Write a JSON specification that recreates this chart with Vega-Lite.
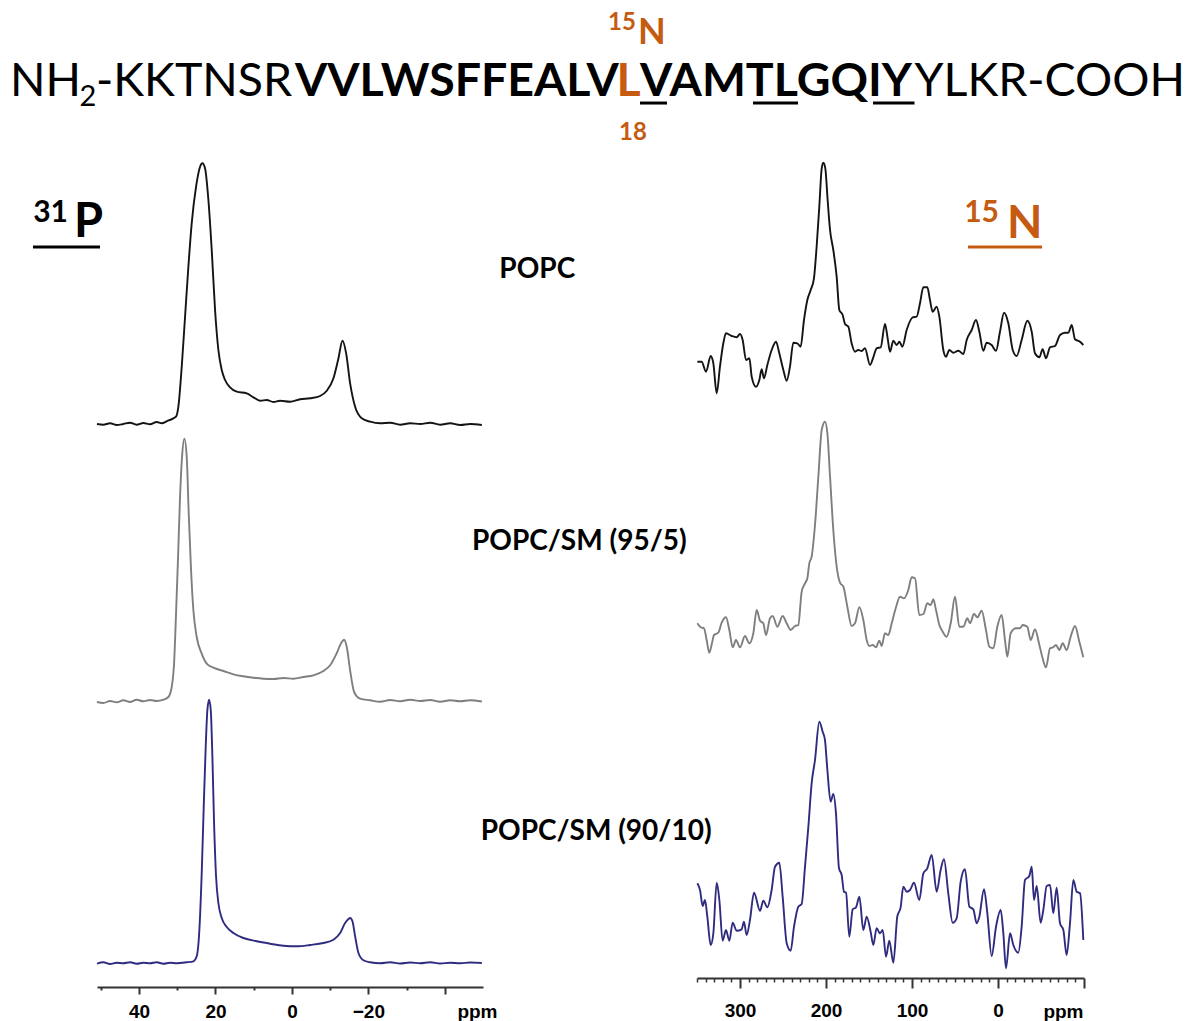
{
"$schema": "https://vega.github.io/schema/vega-lite/v6.json",
"width": 1192, "height": 978,
"autosize": "none",
"padding": {"left": 0, "top": 0, "right": 0, "bottom": 43},
"background": "white",
"config": {"view": {"stroke": null}, "axis": {"grid": false}},
"datasets": {
"p_popc": [{"ppm":51.0,"i":1.0},{"ppm":49.34,"i":0.3},{"ppm":47.59,"i":1.7},{"ppm":45.85,"i":0},{"ppm":44.10,"i":1.0},{"ppm":42.36,"i":2.3},{"ppm":40.61,"i":0.3},{"ppm":38.87,"i":2.0},{"ppm":37.12,"i":0.7},{"ppm":35.38,"i":3.0},{"ppm":34.07,"i":1.7},{"ppm":32.76,"i":3.7},{"ppm":31.02,"i":6.7},{"ppm":30.32,"i":8.3},{"ppm":29.71,"i":18.3},{"ppm":28.83,"i":58.3},{"ppm":27.96,"i":108.3},{"ppm":27.09,"i":158.3},{"ppm":26.22,"i":201.7},{"ppm":25.08,"i":238.3},{"ppm":24.03,"i":258.3},{"ppm":23.42,"i":261.7},{"ppm":22.73,"i":256.7},{"ppm":21.85,"i":225},{"ppm":20.98,"i":175},{"ppm":20.11,"i":115},{"ppm":19.24,"i":75},{"ppm":18.36,"i":55},{"ppm":17.49,"i":45},{"ppm":16.18,"i":37.7},{"ppm":14.44,"i":33.3},{"ppm":11.82,"i":31.7},{"ppm":10.07,"i":27.7},{"ppm":8.33,"i":24.3},{"ppm":6.58,"i":25},{"ppm":4.84,"i":23},{"ppm":3.09,"i":24.3},{"ppm":0.47,"i":23.3},{"ppm":-2.14,"i":25.7},{"ppm":-4.76,"i":26.7},{"ppm":-7.38,"i":29},{"ppm":-9.12,"i":34.3},{"ppm":-10.87,"i":46.7},{"ppm":-12.18,"i":66.7},{"ppm":-13.23,"i":84.3},{"ppm":-14.19,"i":71.7},{"ppm":-15.23,"i":41.7},{"ppm":-16.54,"i":18.3},{"ppm":-18.29,"i":6.7},{"ppm":-20.47,"i":3.3},{"ppm":-23.09,"i":1.7},{"ppm":-25.70,"i":2.3},{"ppm":-28.32,"i":0.3},{"ppm":-30.94,"i":1.7},{"ppm":-33.56,"i":1.0},{"ppm":-36.18,"i":2.3},{"ppm":-38.79,"i":0.3},{"ppm":-41.41,"i":1.7},{"ppm":-44.03,"i":0},{"ppm":-46.65,"i":1.0},{"ppm":-49.70,"i":0}],
"p_sm5": [{"ppm":51.0,"i":-1.0},{"ppm":49.34,"i":-2},{"ppm":47.59,"i":0},{"ppm":45.85,"i":-1.3},{"ppm":44.10,"i":0.7},{"ppm":42.36,"i":-1},{"ppm":40.61,"i":1.3},{"ppm":38.87,"i":-0.3},{"ppm":37.12,"i":1},{"ppm":35.38,"i":0},{"ppm":33.63,"i":1.3},{"ppm":32.32,"i":4},{"ppm":31.45,"i":14},{"ppm":30.84,"i":37.3},{"ppm":30.32,"i":87.3},{"ppm":29.79,"i":144},{"ppm":29.27,"i":204},{"ppm":28.75,"i":244},{"ppm":28.14,"i":262.3},{"ppm":27.52,"i":244},{"ppm":27.00,"i":187.3},{"ppm":26.39,"i":130.7},{"ppm":25.78,"i":90.7},{"ppm":24.91,"i":64},{"ppm":23.60,"i":47.3},{"ppm":22.29,"i":37.3},{"ppm":20.54,"i":33.3},{"ppm":17.93,"i":30},{"ppm":15.31,"i":26.7},{"ppm":12.69,"i":24.7},{"ppm":10.07,"i":23.3},{"ppm":7.46,"i":22.3},{"ppm":4.84,"i":22},{"ppm":2.22,"i":23},{"ppm":-0.40,"i":22.3},{"ppm":-3.02,"i":24},{"ppm":-5.63,"i":25.7},{"ppm":-8.25,"i":30},{"ppm":-10.00,"i":35.7},{"ppm":-11.74,"i":48},{"ppm":-13.05,"i":59},{"ppm":-13.66,"i":61.3},{"ppm":-14.36,"i":54},{"ppm":-15.23,"i":30.7},{"ppm":-16.28,"i":9},{"ppm":-17.85,"i":2.3},{"ppm":-20.47,"i":0.7},{"ppm":-23.09,"i":-0.7},{"ppm":-25.70,"i":1},{"ppm":-28.32,"i":-0.3},{"ppm":-30.94,"i":1.3},{"ppm":-33.56,"i":0},{"ppm":-36.18,"i":1},{"ppm":-38.79,"i":-0.7},{"ppm":-41.41,"i":0.7},{"ppm":-44.03,"i":-0.3},{"ppm":-46.65,"i":0.7},{"ppm":-49.70,"i":-0.5}],
"p_sm10": [{"ppm":51.0,"i":-0.7},{"ppm":49.34,"i":0.7},{"ppm":47.59,"i":-1},{"ppm":45.85,"i":0.3},{"ppm":44.10,"i":-0.3},{"ppm":42.36,"i":0.7},{"ppm":40.61,"i":-0.7},{"ppm":38.87,"i":0.3},{"ppm":37.12,"i":-0.3},{"ppm":35.38,"i":0.7},{"ppm":33.63,"i":-0.7},{"ppm":31.89,"i":0.3},{"ppm":30.14,"i":-0.3},{"ppm":27.52,"i":0.7},{"ppm":25.78,"i":1.7},{"ppm":24.91,"i":6.7},{"ppm":24.21,"i":33.3},{"ppm":23.60,"i":90},{"ppm":23.07,"i":156.7},{"ppm":22.55,"i":216.7},{"ppm":22.11,"i":253.3},{"ppm":21.68,"i":263.3},{"ppm":21.24,"i":253.3},{"ppm":20.81,"i":206.7},{"ppm":20.37,"i":140},{"ppm":19.85,"i":86.7},{"ppm":19.24,"i":60},{"ppm":18.36,"i":45},{"ppm":17.05,"i":36},{"ppm":15.31,"i":30},{"ppm":12.69,"i":25},{"ppm":9.20,"i":21.7},{"ppm":5.71,"i":19.3},{"ppm":2.22,"i":17.3},{"ppm":-1.27,"i":16.7},{"ppm":-4.76,"i":18},{"ppm":-8.25,"i":20},{"ppm":-10.87,"i":23.3},{"ppm":-12.62,"i":30},{"ppm":-13.92,"i":40},{"ppm":-14.80,"i":44},{"ppm":-15.23,"i":45},{"ppm":-15.84,"i":41.7},{"ppm":-16.54,"i":26.7},{"ppm":-17.41,"i":10},{"ppm":-18.72,"i":2.7},{"ppm":-20.47,"i":0.7},{"ppm":-23.09,"i":-0.3},{"ppm":-25.70,"i":0.7},{"ppm":-28.32,"i":-0.5},{"ppm":-30.94,"i":0.5},{"ppm":-33.56,"i":-0.3},{"ppm":-36.18,"i":0.7},{"ppm":-38.79,"i":-0.5},{"ppm":-41.41,"i":0.3},{"ppm":-44.03,"i":-0.3},{"ppm":-46.65,"i":0.5},{"ppm":-49.70,"i":0}],
"n_popc": [{"ppm":349.6,"i":33.3},{"ppm":344.6,"i":33.3},{"ppm":339.5,"i":23.3},{"ppm":334.1,"i":39},{"ppm":331.0,"i":31.7},{"ppm":327.1,"i":1.7},{"ppm":323.3,"i":28.3},{"ppm":319.4,"i":51.7},{"ppm":316.3,"i":61.7},{"ppm":309.7,"i":59},{"ppm":303.9,"i":57.7},{"ppm":300.0,"i":61},{"ppm":296.9,"i":55},{"ppm":293.0,"i":35},{"ppm":289.1,"i":36.7},{"ppm":286.4,"i":18.3},{"ppm":281.4,"i":8.3},{"ppm":277.5,"i":15},{"ppm":274.8,"i":25.7},{"ppm":272.1,"i":16.7},{"ppm":268.2,"i":30},{"ppm":263.2,"i":45},{"ppm":258.1,"i":53.3},{"ppm":254.3,"i":41.7},{"ppm":249.6,"i":25},{"ppm":245.7,"i":14.3},{"ppm":241.9,"i":28.3},{"ppm":238.0,"i":52.3},{"ppm":233.3,"i":51.7},{"ppm":229.5,"i":48.3},{"ppm":225.6,"i":75},{"ppm":221.7,"i":95},{"ppm":217.8,"i":105},{"ppm":214.0,"i":116.7},{"ppm":210.9,"i":148.3},{"ppm":207.8,"i":188.3},{"ppm":205.0,"i":226.7},{"ppm":203.1,"i":232.3},{"ppm":200.8,"i":226.7},{"ppm":198.1,"i":195},{"ppm":195.3,"i":165},{"ppm":191.5,"i":145},{"ppm":187.6,"i":118.3},{"ppm":184.5,"i":85},{"ppm":180.6,"i":80},{"ppm":177.9,"i":71},{"ppm":174.0,"i":68.3},{"ppm":170.2,"i":51.7},{"ppm":166.3,"i":43.3},{"ppm":162.4,"i":45},{"ppm":158.5,"i":44},{"ppm":154.7,"i":46.7},{"ppm":148.8,"i":30},{"ppm":145.0,"i":37.7},{"ppm":141.1,"i":46.7},{"ppm":136.4,"i":47.7},{"ppm":131.4,"i":71},{"ppm":128.3,"i":56.7},{"ppm":125.6,"i":43.3},{"ppm":121.7,"i":54.3},{"ppm":117.8,"i":50},{"ppm":114.7,"i":53.3},{"ppm":111.2,"i":48.3},{"ppm":106.2,"i":65},{"ppm":99.2,"i":77.7},{"ppm":94.6,"i":78.3},{"ppm":90.7,"i":91.7},{"ppm":86.8,"i":107.7},{"ppm":82.2,"i":107.7},{"ppm":79.1,"i":95},{"ppm":76.0,"i":83.3},{"ppm":71.3,"i":88.3},{"ppm":68.2,"i":78.3},{"ppm":63.6,"i":45},{"ppm":60.5,"i":38.3},{"ppm":56.6,"i":45},{"ppm":51.9,"i":42.3},{"ppm":46.1,"i":44.3},{"ppm":40.3,"i":41},{"ppm":36.4,"i":55},{"ppm":30.6,"i":65},{"ppm":25.6,"i":75},{"ppm":21.7,"i":63.3},{"ppm":17.1,"i":44.3},{"ppm":13.2,"i":52.3},{"ppm":7.4,"i":50},{"ppm":2.3,"i":44.3},{"ppm":-2.3,"i":63.3},{"ppm":-7.0,"i":82.3},{"ppm":-12.0,"i":71.7},{"ppm":-17.1,"i":45},{"ppm":-21.7,"i":39},{"ppm":-27.5,"i":55},{"ppm":-34.1,"i":74.3},{"ppm":-39.2,"i":63.3},{"ppm":-43.0,"i":41.7},{"ppm":-48.1,"i":37.7},{"ppm":-51.9,"i":45.7},{"ppm":-55.8,"i":36.7},{"ppm":-60.5,"i":47.7},{"ppm":-66.3,"i":49},{"ppm":-72.1,"i":60},{"ppm":-77.9,"i":62.3},{"ppm":-81.8,"i":62.3},{"ppm":-85.7,"i":70},{"ppm":-89.5,"i":55.7},{"ppm":-95.4,"i":53.3},{"ppm":-99.2,"i":50}],
"n_sm5": [{"ppm":349.6,"i":46.7},{"ppm":345.7,"i":42.7},{"ppm":341.9,"i":41.7},{"ppm":338.8,"i":30},{"ppm":335.7,"i":17.3},{"ppm":332.6,"i":26.7},{"ppm":330.2,"i":35},{"ppm":325.2,"i":37.3},{"ppm":321.3,"i":47.3},{"ppm":316.3,"i":52.7},{"ppm":312.4,"i":40},{"ppm":308.5,"i":22.7},{"ppm":304.7,"i":30},{"ppm":300.0,"i":22.7},{"ppm":294.2,"i":34},{"ppm":289.1,"i":26.7},{"ppm":284.5,"i":36.7},{"ppm":280.6,"i":60},{"ppm":276.7,"i":49.3},{"ppm":272.9,"i":46.7},{"ppm":269.8,"i":35},{"ppm":265.1,"i":51.7},{"ppm":262.0,"i":54},{"ppm":256.6,"i":43.3},{"ppm":250.4,"i":54},{"ppm":245.7,"i":46.7},{"ppm":241.1,"i":40},{"ppm":236.0,"i":44},{"ppm":232.2,"i":45},{"ppm":228.3,"i":78.3},{"ppm":224.4,"i":86.7},{"ppm":221.7,"i":91.7},{"ppm":219.4,"i":106.7},{"ppm":216.7,"i":113.3},{"ppm":212.8,"i":145},{"ppm":208.9,"i":193.3},{"ppm":205.0,"i":240},{"ppm":201.2,"i":248.3},{"ppm":198.4,"i":236.7},{"ppm":195.3,"i":193.3},{"ppm":191.5,"i":140},{"ppm":187.6,"i":103.3},{"ppm":183.7,"i":87.3},{"ppm":179.8,"i":83.3},{"ppm":175.2,"i":63.3},{"ppm":170.2,"i":44},{"ppm":166.3,"i":46.7},{"ppm":161.2,"i":62.7},{"ppm":156.6,"i":50},{"ppm":152.7,"i":30},{"ppm":149.6,"i":24},{"ppm":145.7,"i":25},{"ppm":141.9,"i":22.7},{"ppm":138.0,"i":29.3},{"ppm":135.3,"i":24},{"ppm":131.4,"i":36.7},{"ppm":127.5,"i":35},{"ppm":123.6,"i":46.7},{"ppm":118.6,"i":62.7},{"ppm":114.0,"i":73.3},{"ppm":109.3,"i":71.7},{"ppm":104.3,"i":80},{"ppm":100.4,"i":92.7},{"ppm":96.5,"i":91.7},{"ppm":91.5,"i":55},{"ppm":86.8,"i":56},{"ppm":82.2,"i":66.7},{"ppm":78.3,"i":65},{"ppm":75.2,"i":70.7},{"ppm":72.1,"i":60},{"ppm":68.2,"i":45},{"ppm":64.3,"i":38.3},{"ppm":59.7,"i":33.3},{"ppm":55.0,"i":46.7},{"ppm":50.0,"i":73.3},{"ppm":45.0,"i":43.3},{"ppm":40.3,"i":43.3},{"ppm":35.7,"i":51.7},{"ppm":32.6,"i":46.7},{"ppm":27.9,"i":56},{"ppm":24.0,"i":52.7},{"ppm":19.0,"i":59.3},{"ppm":14.0,"i":40},{"ppm":10.1,"i":23.3},{"ppm":5.4,"i":21.7},{"ppm":0.8,"i":43.3},{"ppm":-4.3,"i":55},{"ppm":-8.1,"i":30},{"ppm":-10.9,"i":13.3},{"ppm":-14.7,"i":36.7},{"ppm":-20.9,"i":41.7},{"ppm":-25.6,"i":41.7},{"ppm":-28.7,"i":45},{"ppm":-34.1,"i":43.3},{"ppm":-38.0,"i":30},{"ppm":-43.0,"i":40.7},{"ppm":-48.1,"i":25},{"ppm":-51.9,"i":11.7},{"ppm":-55.8,"i":2.7},{"ppm":-60.5,"i":21.7},{"ppm":-64.3,"i":22.7},{"ppm":-67.4,"i":25},{"ppm":-71.3,"i":20},{"ppm":-75.2,"i":26.7},{"ppm":-79.8,"i":20},{"ppm":-84.5,"i":33.3},{"ppm":-89.5,"i":44},{"ppm":-94.6,"i":28.3},{"ppm":-99.2,"i":12.7}],
"n_sm10": [{"ppm":349.6,"i":91.7},{"ppm":346.5,"i":85},{"ppm":343.4,"i":69},{"ppm":340.7,"i":75},{"ppm":338.0,"i":58.3},{"ppm":334.1,"i":30},{"ppm":331.0,"i":41.7},{"ppm":327.1,"i":92.3},{"ppm":324.0,"i":75},{"ppm":320.2,"i":34.3},{"ppm":316.3,"i":45},{"ppm":312.4,"i":34.3},{"ppm":308.5,"i":52.3},{"ppm":303.9,"i":44.3},{"ppm":298.1,"i":45.7},{"ppm":295.4,"i":53.3},{"ppm":292.3,"i":40},{"ppm":288.4,"i":55},{"ppm":283.7,"i":82.3},{"ppm":276.7,"i":64.3},{"ppm":272.9,"i":74.3},{"ppm":268.2,"i":67.7},{"ppm":263.2,"i":85},{"ppm":259.3,"i":108.3},{"ppm":254.3,"i":112.3},{"ppm":250.4,"i":78.3},{"ppm":245.7,"i":31.7},{"ppm":241.1,"i":24.3},{"ppm":237.2,"i":48.3},{"ppm":232.2,"i":68.3},{"ppm":228.3,"i":71},{"ppm":224.4,"i":108.3},{"ppm":220.5,"i":148.3},{"ppm":216.7,"i":191.7},{"ppm":212.8,"i":215},{"ppm":207.8,"i":253.3},{"ppm":203.9,"i":243.3},{"ppm":201.2,"i":235},{"ppm":198.4,"i":205},{"ppm":194.6,"i":173.3},{"ppm":191.5,"i":181},{"ppm":188.4,"i":161.7},{"ppm":184.9,"i":106.7},{"ppm":181.8,"i":100},{"ppm":179.1,"i":83.3},{"ppm":176.7,"i":82.3},{"ppm":172.9,"i":38.3},{"ppm":169.0,"i":65.7},{"ppm":165.1,"i":67.7},{"ppm":161.2,"i":78.3},{"ppm":156.6,"i":45},{"ppm":152.7,"i":58.3},{"ppm":148.1,"i":43.3},{"ppm":145.0,"i":30},{"ppm":141.1,"i":46.7},{"ppm":137.2,"i":41.7},{"ppm":134.1,"i":45},{"ppm":130.2,"i":18.3},{"ppm":126.4,"i":34.3},{"ppm":121.7,"i":12.3},{"ppm":117.1,"i":58.3},{"ppm":113.2,"i":67.7},{"ppm":110.1,"i":88.3},{"ppm":106.2,"i":83.3},{"ppm":102.3,"i":85},{"ppm":97.7,"i":92.3},{"ppm":91.5,"i":75},{"ppm":86.8,"i":101.7},{"ppm":82.2,"i":106.7},{"ppm":77.1,"i":120},{"ppm":71.3,"i":83.3},{"ppm":66.7,"i":105},{"ppm":62.8,"i":115.7},{"ppm":57.8,"i":81.7},{"ppm":52.7,"i":52.3},{"ppm":48.1,"i":56.7},{"ppm":43.4,"i":93.3},{"ppm":38.4,"i":105.7},{"ppm":33.3,"i":68.3},{"ppm":28.7,"i":65.7},{"ppm":24.8,"i":51.7},{"ppm":21.7,"i":58.3},{"ppm":16.3,"i":85.7},{"ppm":12.4,"i":61.7},{"ppm":7.4,"i":19},{"ppm":2.3,"i":48.3},{"ppm":-3.1,"i":65},{"ppm":-6.2,"i":41.7},{"ppm":-9.3,"i":6.7},{"ppm":-14.0,"i":41.7},{"ppm":-17.8,"i":30},{"ppm":-23.6,"i":22.3},{"ppm":-27.5,"i":48.3},{"ppm":-31.4,"i":95},{"ppm":-36.4,"i":99},{"ppm":-39.2,"i":108.3},{"ppm":-41.9,"i":75},{"ppm":-45.0,"i":89},{"ppm":-49.6,"i":52.3},{"ppm":-52.7,"i":65},{"ppm":-56.6,"i":89},{"ppm":-60.5,"i":90},{"ppm":-64.3,"i":61.7},{"ppm":-68.2,"i":87.3},{"ppm":-72.1,"i":51.7},{"ppm":-76.0,"i":45},{"ppm":-79.8,"i":20},{"ppm":-83.7,"i":51.7},{"ppm":-87.6,"i":95},{"ppm":-91.5,"i":83.3},{"ppm":-95.4,"i":81.7},{"ppm":-99.2,"i":35}],
"sequence": [{"text":"NH","pos":0,"tier":1,"region":"flank"},{"text":"2","pos":0.4,"tier":0.77,"region":"subscript"},{"text":"-KKTNSR","pos":0.6,"tier":1,"region":"flank"},{"text":"VVLWSFFEALV","pos":7,"tier":1,"region":"core"},{"text":"L","pos":18,"tier":1,"region":"labelled"},{"text":"VAMTLGQIY","pos":19,"tier":1,"region":"core"},{"text":"YLKR-COOH","pos":28,"tier":1,"region":"flank"}],
"underlines": [{"from":19,"to":20,"tier":0.84},{"from":22,"to":24,"tier":0.84},{"from":26,"to":28,"tier":0.84}],
"isotope": [{"text":"15","part":"mass","pos":18.7,"tier":2.5},{"text":"N","part":"element","pos":18.7,"tier":2.18},{"text":"18","part":"residue","pos":18.7,"tier":0}],
"p_head": [{"text":"31","part":"mass","ppm":58.59,"i":203},{"text":"P","part":"element","ppm":57.0,"i":188}],
"p_head_line": [{"from":67.75,"to":50.21,"i":178}],
"n_head": [{"text":"15","part":"mass","ppm":-1.16,"i":173},{"text":"N","part":"element","ppm":-10.5,"i":157}],
"n_head_line": [{"from":34.9,"to":-51.2,"i":148}],
"samples": [{"sample":"POPC","label":"POPC","ppm":-64.2,"i":147},{"sample":"SM5","label":"POPC/SM (95/5)","ppm":-75.2,"i":151},{"sample":"SM10","label":"POPC/SM (90/10)","ppm":-79.6,"i":123}]
},
"layer": [
{"data":{"name":"p_popc"},"mark":{"type":"line","color":"#141414","strokeWidth":1.9,"interpolate":"monotone","clip":false},
 "encoding":{"x":{"field":"ppm","type":"quantitative","scale":{"domain":[51,-50],"range":[97,483],"nice":false,"zero":false},
   "axis":{"orient":"bottom","offset":9,"values":[40,20,0,-20,-40],"labelExpr":"datum.value == -40 ? '' : datum.label","tickSize":7,"tickWidth":2,"tickColor":"#333","domainColor":"#333","domainWidth":2,"labelFont":"Liberation Sans","labelFontWeight":"bold","labelFontSize":19,"labelColor":"#000","labelPadding":8,"labelOverlap":false,"labelFlush":false,"title":"ppm","titleFont":"Liberation Sans","titleFontWeight":"bold","titleFontSize":19,"titleColor":"#000","titleX":497,"titleY":30,"titleAlign":"right","titleBaseline":"alphabetic","titleAngle":0}},
  "y":{"field":"i","type":"quantitative","scale":{"domain":[0,262],"range":[425,163],"nice":false,"zero":false},"axis":null}}},
{"data":{"name":"p_sm5"},"mark":{"type":"line","color":"#7f7f7f","strokeWidth":1.9,"interpolate":"monotone","clip":false},
 "encoding":{"x":{"field":"ppm","type":"quantitative","scale":{"domain":[51,-50],"range":[97,483],"nice":false,"zero":false},
   "axis":{"orient":"bottom","offset":9,"values":[50,30,10,-10,-30],"labels":false,"domain":false,"tickSize":3,"tickWidth":2,"tickColor":"#333","title":null}},
  "y":{"field":"i","type":"quantitative","scale":{"domain":[0,263],"range":[701,438],"nice":false,"zero":false},"axis":null}}},
{"data":{"name":"p_sm10"},"mark":{"type":"line","color":"#2f2c80","strokeWidth":1.9,"interpolate":"monotone","clip":false},
 "encoding":{"x":{"field":"ppm","type":"quantitative","scale":{"domain":[51,-50],"range":[97,483],"nice":false,"zero":false},"axis":null},
  "y":{"field":"i","type":"quantitative","scale":{"domain":[0,264],"range":[963,699],"nice":false,"zero":false},"axis":null}}},
{"data":{"name":"n_popc"},"mark":{"type":"line","color":"#141414","strokeWidth":1.9,"interpolate":"monotone","clip":false},
 "encoding":{"x":{"field":"ppm","type":"quantitative","scale":{"domain":[350,-100],"range":[697,1084],"nice":false,"zero":false},
   "axis":{"orient":"bottom","offset":0,"values":[300,200,100,0,-100],"labelExpr":"datum.value == -100 ? '' : datum.label","tickSize":10,"tickWidth":2,"tickColor":"#333","domainColor":"#333","domainWidth":2,"labelFont":"Liberation Sans","labelFontWeight":"bold","labelFontSize":19,"labelColor":"#000","labelPadding":13,"labelOverlap":false,"labelFlush":false,"title":"ppm","titleFont":"Liberation Sans","titleFontWeight":"bold","titleFontSize":19,"titleColor":"#000","titleX":1083,"titleY":39,"titleAlign":"right","titleBaseline":"alphabetic","titleAngle":0}},
  "y":{"field":"i","type":"quantitative","scale":{"domain":[0,235],"range":[395,160],"nice":false,"zero":false},"axis":null}}},
{"data":{"name":"n_sm5"},"mark":{"type":"line","color":"#7f7f7f","strokeWidth":1.9,"interpolate":"monotone","clip":false},
 "encoding":{"x":{"field":"ppm","type":"quantitative","scale":{"domain":[350,-100],"range":[697,1084],"nice":false,"zero":false},
   "axis":{"orient":"bottom","offset":0,"values":[350,340,330,320,310,290,280,270,260,250,240,230,220,210,190,180,170,160,150,140,130,120,110,90,80,70,60,50,40,30,20,10,-10,-20,-30,-40,-50,-60,-70,-80,-90],"labels":false,"domain":false,"tickSize":4,"tickWidth":1.5,"tickColor":"#333","title":null}},
  "y":{"field":"i","type":"quantitative","scale":{"domain":[0,250],"range":[670,420],"nice":false,"zero":false},"axis":null}}},
{"data":{"name":"n_sm10"},"mark":{"type":"line","color":"#2f2c80","strokeWidth":1.9,"interpolate":"monotone","clip":false},
 "encoding":{"x":{"field":"ppm","type":"quantitative","scale":{"domain":[350,-100],"range":[697,1084],"nice":false,"zero":false},"axis":null},
  "y":{"field":"i","type":"quantitative","scale":{"domain":[0,260],"range":[975,715],"nice":false,"zero":false},"axis":null}}},
{"data":{"name":"samples"},"transform":[{"filter":"datum.sample == 'POPC'"}],"mark":{"type":"text","font":"Lato","fontWeight":"bold","fontSize":28,"align":"center","baseline":"alphabetic","color":"#000"},
 "encoding":{"x":{"field":"ppm","type":"quantitative","scale":{"domain":[51,-50],"range":[97,483],"nice":false,"zero":false},"axis":null},
  "y":{"field":"i","type":"quantitative","scale":{"domain":[0,262],"range":[425,163],"nice":false,"zero":false},"axis":null},"text":{"field":"label"}}},
{"data":{"name":"samples"},"transform":[{"filter":"datum.sample == 'SM5'"}],"mark":{"type":"text","font":"Lato","fontWeight":"bold","fontSize":28,"align":"center","baseline":"alphabetic","color":"#000"},
 "encoding":{"x":{"field":"ppm","type":"quantitative","scale":{"domain":[51,-50],"range":[97,483],"nice":false,"zero":false},"axis":null},
  "y":{"field":"i","type":"quantitative","scale":{"domain":[0,263],"range":[701,438],"nice":false,"zero":false},"axis":null},"text":{"field":"label"}}},
{"data":{"name":"samples"},"transform":[{"filter":"datum.sample == 'SM10'"}],"mark":{"type":"text","font":"Lato","fontWeight":"bold","fontSize":28,"align":"center","baseline":"alphabetic","color":"#000"},
 "encoding":{"x":{"field":"ppm","type":"quantitative","scale":{"domain":[51,-50],"range":[97,483],"nice":false,"zero":false},"axis":null},
  "y":{"field":"i","type":"quantitative","scale":{"domain":[0,264],"range":[963,699],"nice":false,"zero":false},"axis":null},"text":{"field":"label"}}},
{"data":{"name":"p_head"},"transform":[{"filter":"datum.part == 'mass'"}],"mark":{"type":"text","font":"Lato","fontWeight":"bold","fontSize":30,"align":"right","baseline":"alphabetic","color":"#000"},
 "encoding":{"x":{"field":"ppm","type":"quantitative","scale":{"domain":[51,-50],"range":[97,483],"nice":false,"zero":false},"axis":null},
  "y":{"field":"i","type":"quantitative","scale":{"domain":[0,262],"range":[425,163],"nice":false,"zero":false},"axis":null},"text":{"field":"text"}}},
{"data":{"name":"p_head"},"transform":[{"filter":"datum.part == 'element'"}],"mark":{"type":"text","font":"Lato","fontWeight":"bold","fontSize":47,"align":"left","baseline":"alphabetic","color":"#000"},
 "encoding":{"x":{"field":"ppm","type":"quantitative","scale":{"domain":[51,-50],"range":[97,483],"nice":false,"zero":false},"axis":null},
  "y":{"field":"i","type":"quantitative","scale":{"domain":[0,262],"range":[425,163],"nice":false,"zero":false},"axis":null},"text":{"field":"text"}}},
{"data":{"name":"p_head_line"},"mark":{"type":"rule","color":"#000","strokeWidth":3},
 "encoding":{"x":{"field":"from","type":"quantitative","scale":{"domain":[51,-50],"range":[97,483],"nice":false,"zero":false},"axis":null},"x2":{"field":"to"},
  "y":{"field":"i","type":"quantitative","scale":{"domain":[0,262],"range":[425,163],"nice":false,"zero":false},"axis":null}}},
{"data":{"name":"n_head"},"transform":[{"filter":"datum.part == 'mass'"}],"mark":{"type":"text","font":"Lato","fontWeight":"bold","fontSize":30,"align":"right","baseline":"alphabetic","color":"#C55A11"},
 "encoding":{"x":{"field":"ppm","type":"quantitative","scale":{"domain":[350,-100],"range":[697,1084],"nice":false,"zero":false},"axis":null},
  "y":{"field":"i","type":"quantitative","scale":{"domain":[0,235],"range":[395,160],"nice":false,"zero":false},"axis":null},"text":{"field":"text"}}},
{"data":{"name":"n_head"},"transform":[{"filter":"datum.part == 'element'"}],"mark":{"type":"text","font":"Lato","fontWeight":"bold","fontSize":46,"align":"left","baseline":"alphabetic","color":"#C55A11"},
 "encoding":{"x":{"field":"ppm","type":"quantitative","scale":{"domain":[350,-100],"range":[697,1084],"nice":false,"zero":false},"axis":null},
  "y":{"field":"i","type":"quantitative","scale":{"domain":[0,235],"range":[395,160],"nice":false,"zero":false},"axis":null},"text":{"field":"text"}}},
{"data":{"name":"n_head_line"},"mark":{"type":"rule","color":"#C55A11","strokeWidth":3},
 "encoding":{"x":{"field":"from","type":"quantitative","scale":{"domain":[350,-100],"range":[697,1084],"nice":false,"zero":false},"axis":null},"x2":{"field":"to"},
  "y":{"field":"i","type":"quantitative","scale":{"domain":[0,235],"range":[395,160],"nice":false,"zero":false},"axis":null}}},
{"data":{"name":"sequence"},"transform":[{"filter":"datum.region == 'flank'"}],"mark":{"type":"text","font":"Lato","fontWeight":"normal","fontSize":46.5,"align":"left","baseline":"alphabetic","color":"#000"},
 "encoding":{"x":{"field":"pos","type":"quantitative","scale":{"domain":[0,0.4,0.6,7,18,19,20,22,24,26,28,33],"range":[10,79.5,96,295,616.5,640,667,753,798,873,914.5,1183],"nice":false,"zero":false},"axis":null},
  "y":{"field":"tier","type":"quantitative","scale":{"domain":[0,1],"range":[140,96],"nice":false,"zero":false},"axis":null},"text":{"field":"text"}}},
{"data":{"name":"sequence"},"transform":[{"filter":"datum.region == 'subscript'"}],"mark":{"type":"text","font":"Lato","fontWeight":"normal","fontSize":29,"align":"left","baseline":"alphabetic","color":"#000"},
 "encoding":{"x":{"field":"pos","type":"quantitative","scale":{"domain":[0,0.4,0.6,7,18,19,20,22,24,26,28,33],"range":[10,79.5,96,295,616.5,640,667,753,798,873,914.5,1183],"nice":false,"zero":false},"axis":null},
  "y":{"field":"tier","type":"quantitative","scale":{"domain":[0,1],"range":[140,96],"nice":false,"zero":false},"axis":null},"text":{"field":"text"}}},
{"data":{"name":"sequence"},"transform":[{"filter":"datum.region == 'core'"}],"mark":{"type":"text","font":"Lato","fontWeight":"bold","fontSize":46.5,"align":"left","baseline":"alphabetic","color":"#000"},
 "encoding":{"x":{"field":"pos","type":"quantitative","scale":{"domain":[0,0.4,0.6,7,18,19,20,22,24,26,28,33],"range":[10,79.5,96,295,616.5,640,667,753,798,873,914.5,1183],"nice":false,"zero":false},"axis":null},
  "y":{"field":"tier","type":"quantitative","scale":{"domain":[0,1],"range":[140,96],"nice":false,"zero":false},"axis":null},"text":{"field":"text"}}},
{"data":{"name":"sequence"},"transform":[{"filter":"datum.region == 'labelled'"}],"mark":{"type":"text","font":"Lato","fontWeight":"bold","fontSize":46.5,"align":"left","baseline":"alphabetic","color":"#C55A11"},
 "encoding":{"x":{"field":"pos","type":"quantitative","scale":{"domain":[0,0.4,0.6,7,18,19,20,22,24,26,28,33],"range":[10,79.5,96,295,616.5,640,667,753,798,873,914.5,1183],"nice":false,"zero":false},"axis":null},
  "y":{"field":"tier","type":"quantitative","scale":{"domain":[0,1],"range":[140,96],"nice":false,"zero":false},"axis":null},"text":{"field":"text"}}},
{"data":{"name":"underlines"},"mark":{"type":"rule","color":"#000","strokeWidth":3},
 "encoding":{"x":{"field":"from","type":"quantitative","scale":{"domain":[0,0.4,0.6,7,18,19,20,22,24,26,28,33],"range":[10,79.5,96,295,616.5,640,667,753,798,873,914.5,1183],"nice":false,"zero":false},"axis":null},"x2":{"field":"to"},
  "y":{"field":"tier","type":"quantitative","scale":{"domain":[0,1],"range":[140,96],"nice":false,"zero":false},"axis":null}}},
{"data":{"name":"isotope"},"transform":[{"filter":"datum.part == 'mass'"}],"mark":{"type":"text","font":"Lato","fontWeight":"bold","fontSize":24,"align":"right","baseline":"alphabetic","color":"#C55A11","dx":3},
 "encoding":{"x":{"field":"pos","type":"quantitative","scale":{"domain":[0,0.4,0.6,7,18,19,20,22,24,26,28,33],"range":[10,79.5,96,295,616.5,640,667,753,798,873,914.5,1183],"nice":false,"zero":false},"axis":null},
  "y":{"field":"tier","type":"quantitative","scale":{"domain":[0,1],"range":[140,96],"nice":false,"zero":false},"axis":null},"text":{"field":"text"}}},
{"data":{"name":"isotope"},"transform":[{"filter":"datum.part == 'element'"}],"mark":{"type":"text","font":"Lato","fontWeight":"bold","fontSize":36,"align":"left","baseline":"alphabetic","color":"#C55A11","dx":5},
 "encoding":{"x":{"field":"pos","type":"quantitative","scale":{"domain":[0,0.4,0.6,7,18,19,20,22,24,26,28,33],"range":[10,79.5,96,295,616.5,640,667,753,798,873,914.5,1183],"nice":false,"zero":false},"axis":null},
  "y":{"field":"tier","type":"quantitative","scale":{"domain":[0,1],"range":[140,96],"nice":false,"zero":false},"axis":null},"text":{"field":"text"}}},
{"data":{"name":"isotope"},"transform":[{"filter":"datum.part == 'residue'"}],"mark":{"type":"text","font":"Lato","fontWeight":"bold","fontSize":24,"align":"center","baseline":"alphabetic","color":"#C55A11"},
 "encoding":{"x":{"field":"pos","type":"quantitative","scale":{"domain":[0,0.4,0.6,7,18,19,20,22,24,26,28,33],"range":[10,79.5,96,295,616.5,640,667,753,798,873,914.5,1183],"nice":false,"zero":false},"axis":null},
  "y":{"field":"tier","type":"quantitative","scale":{"domain":[0,1],"range":[140,96],"nice":false,"zero":false},"axis":null},"text":{"field":"text"}}}
],
"resolve": {"scale": {"x": "independent", "y": "independent"}, "axis": {"x": "independent", "y": "independent"}}
}
